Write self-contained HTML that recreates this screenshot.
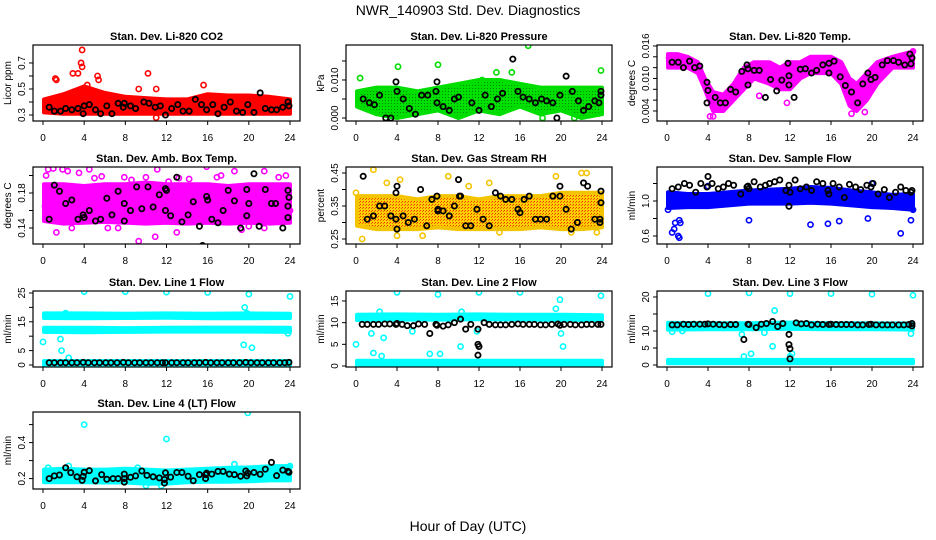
<!DOCTYPE html>
<html><head><meta charset="utf-8"><style>
html,body{margin:0;padding:0;background:#fff;}
svg{display:block;font-family:"Liberation Sans",sans-serif;}
</style></head><body>
<svg id="chart" width="936" height="540" viewBox="0 0 936 540" xmlns="http://www.w3.org/2000/svg">
<defs>
<pattern id="pat-green" width="3" height="3" patternUnits="userSpaceOnUse"><rect width="3" height="3" fill="#00e000"/><rect x="1" y="1" width="1" height="1" fill="#008800"/></pattern>
<pattern id="pat-rh" width="3" height="3" patternUnits="userSpaceOnUse"><rect width="3" height="3" fill="#ffd000"/><rect width="1" height="1" fill="#f03000"/><rect x="2" y="1" width="1" height="1" fill="#f06000"/></pattern>
</defs>
<text x="468" y="15" text-anchor="middle" font-size="14">NWR_140903  Std. Dev. Diagnostics</text>
<text x="468" y="531" text-anchor="middle" font-size="14">Hour of Day (UTC)</text>
<g id="panels"></g>
</svg>
<script>
// ---- data ----
const xTicks=[0,4,8,12,16,20,24];
// P1 CO2
const co2Hrs=[0,2,4,6,8,10,12,14,16,18,20,22,24];
const co2Lo=[0.32,0.31,0.31,0.31,0.31,0.31,0.31,0.31,0.31,0.31,0.31,0.31,0.31];
const co2Hi=[0.42,0.46,0.52,0.47,0.44,0.43,0.42,0.42,0.46,0.45,0.45,0.44,0.42];
const co2Out=[[3.8,0.8],[3.7,0.7],[3.8,0.67],[2.9,0.62],[3.4,0.62],[1.2,0.58],[1.3,0.57],[5.3,0.6],[5.4,0.57],[10.2,0.62],[4.3,0.53],[11,0.5],[9.3,0.5],[15.6,0.53],[11,0.28]];
const co2Blk=[[0.6,0.36],[1.1,0.33],[1.7,0.33],[2.2,0.35],[2.8,0.34],[3.4,0.35],[3.9,0.31],[4,0.37],[4.5,0.38],[5.1,0.34],[5.6,0.31],[6.2,0.37],[6.7,0.31],[7.3,0.39],[7.9,0.39],[7.8,0.36],[8.5,0.37],[9,0.35],[9.8,0.4],[10.3,0.39],[10.9,0.36],[11.4,0.37],[11.9,0.3],[12.5,0.35],[13.1,0.38],[13.6,0.33],[14.2,0.33],[14.8,0.42],[15.4,0.38],[15.9,0.34],[16.5,0.38],[17,0.31],[17.6,0.36],[18.2,0.4],[18.8,0.33],[19.4,0.32],[19.9,0.38],[20.5,0.32],[21.1,0.47],[21.6,0.35],[22.2,0.34],[22.7,0.34],[23.3,0.36],[23.8,0.4],[23.9,0.37]];
// P2 Pressure
const presHrs=[0,2,4,6,8,10,12,14,16,18,20,22,24];
const presLo=[0.003,0.001,0.000,0.001,0.002,0.000,0.002,0.001,0.003,0.001,0.002,0.000,0.001];
const presHi=[0.007,0.008,0.008,0.007,0.008,0.009,0.010,0.010,0.009,0.008,0.008,0.008,0.008];
const presOut=[[0.4,0.0105],[4.1,0.0135],[8,0.014],[12.3,0.010],[13.7,0.012],[16.8,0.019],[23.9,0.0125],[15.2,0.012],[18.2,0],[21.3,0]];
const presBlk=[[0.7,0.005],[1.3,0.004],[1.8,0.0035],[2.3,0.006],[2.9,0.0],[3.4,0.0],[3.9,0.0095],[4,0.007],[4.6,0.005],[5.2,0.0025],[5.8,0.001],[6.4,0.006],[7,0.006],[7.8,0.007],[7.9,0.0095],[7.9,0.004],[8.5,0.003],[9.1,0.002],[9.6,0.005],[10,0.0055],[11.3,0.004],[12,0.002],[12.6,0.006],[13.2,0.003],[13.8,0.005],[14.3,0.0065],[15.3,0.0155],[15.8,0.007],[16.3,0.0055],[16.9,0.005],[17.5,0.004],[18.1,0.005],[18.6,0.0045],[19.2,0.004],[19.6,0.0],[19.9,0.006],[20.5,0.011],[21.1,0.007],[21.7,0.0045],[22.2,0.002],[22.7,0.003],[23.3,0.0045],[23.7,0.004],[23.9,0.006],[23.9,0.007]];
// P3 Li-820 temp
const tmpHrs=[0,1,2,3,3.7,4.5,5.5,6.5,7.5,8.5,10,11,12,13,14,15,16,17,17.8,18.5,19.5,20.5,22,24];
const tmpLo=[0.012,0.012,0.012,0.011,0.008,0.004,0.004,0.006,0.008,0.010,0.009,0.008,0.008,0.010,0.011,0.011,0.011,0.009,0.005,0.004,0.006,0.009,0.012,0.012];
const tmpHi=[0.0145,0.0145,0.014,0.013,0.010,0.0075,0.007,0.009,0.012,0.013,0.013,0.012,0.013,0.013,0.014,0.014,0.014,0.013,0.010,0.009,0.011,0.013,0.014,0.015];
const tmpOut=[[4.2,0.003],[4.5,0.003],[9,0.0068],[11.7,0.0055],[18,0.0035],[19.3,0.0038],[24,0.015],[0.2,0.0138]];
const tmpBlk=[[0.5,0.013],[1.1,0.013],[1.6,0.012],[2.2,0.0132],[2.7,0.012],[3.2,0.0123],[3.9,0.0093],[4,0.0078],[4.7,0.0065],[3.9,0.0055],[5.2,0.0055],[5.7,0.0055],[6.2,0.008],[6.7,0.0075],[7.3,0.0113],[7.8,0.0125],[7.9,0.0118],[7.9,0.0088],[8.5,0.0115],[9,0.0115],[9.6,0.0065],[10.1,0.0098],[10.7,0.0077],[11.2,0.0097],[11.8,0.0128],[11.9,0.0105],[11.9,0.0088],[12.4,0.0065],[13,0.0117],[13.5,0.0118],[14.1,0.011],[14.6,0.0115],[15.2,0.0125],[15.8,0.0128],[15.8,0.011],[16.3,0.0132],[16.9,0.0103],[17.4,0.0087],[18,0.0075],[18.6,0.0055],[19.1,0.009],[19.6,0.011],[19.9,0.0098],[20.3,0.0102],[21,0.0125],[21.5,0.0133],[22.1,0.0133],[22.6,0.013],[23.2,0.0125],[23.7,0.0145],[23.8,0.0127],[23.9,0.0138]];
// P4 Amb box temp
const ambHrs=[0,2,4,6,8,10,12,14,16,18,20,22,24];
const ambLo=[0.148,0.145,0.146,0.147,0.146,0.145,0.146,0.145,0.146,0.145,0.146,0.145,0.146];
const ambHi=[0.19,0.19,0.188,0.19,0.19,0.192,0.19,0.19,0.19,0.188,0.19,0.19,0.19];
const ambOut=[[0.3,0.2],[0.4,0.153],[0.5,0.207],[1,0.208],[1.3,0.135],[1.9,0.207],[2.4,0.205],[2.8,0.14],[3.5,0.203],[4.5,0.207],[5,0.197],[5.7,0.199],[6.3,0.14],[7.3,0.14],[7.9,0.198],[8.6,0.195],[9.3,0.125],[10,0.198],[10.9,0.13],[11.1,0.207],[12.2,0.193],[13.2,0.197],[14.2,0.196],[15.9,0.21],[16.9,0.198],[17.3,0.2],[18.6,0.205],[19.3,0.138],[21.5,0.205],[22.9,0.198],[23.6,0.2],[21.5,0.14],[20,0.142],[13,0.135],[0.2,0.165],[24,0.16]];
const ambBlk=[[0.6,0.15],[1.1,0.189],[1.6,0.182],[2.2,0.168],[2.8,0.172],[3.4,0.15],[3.9,0.155],[4,0.152],[4.5,0.16],[5.1,0.148],[5.6,0.15],[6.2,0.174],[6.7,0.155],[7.3,0.182],[7.9,0.148],[7.9,0.168],[8.5,0.16],[9.1,0.187],[9.6,0.162],[10.2,0.187],[10.7,0.164],[11.3,0.178],[11.9,0.16],[11.9,0.185],[12,0.183],[12.4,0.154],[13,0.198],[13.5,0.147],[14.1,0.155],[14.6,0.17],[15.2,0.142],[15.5,0.12],[15.9,0.176],[16,0.172],[16.4,0.15],[17,0.146],[17.5,0.16],[18,0.183],[18.6,0.171],[19.2,0.14],[19.8,0.184],[19.8,0.154],[20,0.168],[20.5,0.202],[21,0.142],[21.6,0.184],[22.2,0.168],[22.6,0.168],[23.3,0.14],[23.8,0.152],[23.8,0.165],[23.9,0.175],[23.8,0.183]];
// P5 Gas stream RH
const rhHrs=[0,2,4,6,8,10,12,14,16,18,20,22,24];
const rhLo=[0.29,0.28,0.28,0.28,0.285,0.28,0.28,0.28,0.28,0.285,0.28,0.28,0.285];
const rhHi=[0.38,0.38,0.38,0.37,0.38,0.38,0.37,0.38,0.38,0.38,0.39,0.39,0.39];
const rhOut=[[0.6,0.25],[1.7,0.46],[0,0.39],[4,0.26],[4.3,0.43],[3,0.42],[11,0.41],[13,0.42],[17,0.48],[22,0.45],[22.5,0.45],[23.5,0.27],[21,0.27],[6.5,0.26],[19.5,0.44],[14,0.27],[9,0.44]];
const rhBlk=[[0.7,0.44],[1.1,0.31],[1.7,0.32],[2.3,0.35],[2.8,0.35],[3.4,0.32],[3.9,0.31],[3.9,0.39],[4,0.41],[4,0.28],[4.6,0.32],[5.1,0.3],[5.7,0.31],[6.3,0.4],[6.9,0.29],[7.4,0.37],[7.9,0.38],[8,0.34],[8,0.335],[8.5,0.335],[9.1,0.32],[9.6,0.35],[10,0.43],[10.1,0.38],[10.2,0.38],[10.7,0.29],[11.2,0.29],[11.8,0.34],[12.4,0.31],[13,0.29],[13.6,0.39],[14.1,0.38],[14.6,0.37],[15.2,0.37],[15.8,0.34],[16,0.33],[16.4,0.37],[16.9,0.38],[17.5,0.31],[18,0.31],[18.6,0.31],[19.2,0.38],[19.9,0.41],[19.9,0.38],[20.5,0.34],[21,0.28],[21.6,0.3],[22.2,0.42],[22.6,0.41],[23.3,0.31],[23.8,0.3],[23.9,0.395],[23.9,0.36],[23.8,0.31]];
// P6 Sample flow
const sfHrs=[0,2,4,6,8,10,12,14,16,18,20,22,24];
const sfLo=[0.92,0.93,0.93,0.95,0.97,0.97,0.97,0.98,0.97,0.95,0.93,0.92,0.9];
const sfHi=[1.1,1.08,1.08,1.1,1.12,1.13,1.14,1.16,1.15,1.12,1.1,1.07,1.08];
const sfOut=[[0.5,0.64],[0.7,0.68],[1.1,0.6],[1.2,0.58],[1.3,0.75],[1.2,0.78],[0.8,0.75],[19.6,0.8],[22.8,0.63],[23.8,0.78],[14,0.73],[15.7,0.74],[16.8,0.77],[8,0.78],[20,1.2],[4,1.17],[0.1,0.9],[24,0.9]];
const sfBlk=[[0.5,1.14],[1.1,1.16],[1.7,1.2],[2.2,1.18],[2.8,1.1],[3.3,1.2],[3.9,1.16],[4,1.28],[4.4,1.2],[5,1.14],[5.5,1.16],[6,1.2],[6.5,1.18],[7.2,1.08],[7.8,1.16],[7.9,1.17],[8,1.14],[8.5,1.22],[9.1,1.16],[9.6,1.18],[10,1.2],[10.5,1.22],[11,1.24],[11.6,1.12],[11.9,1.18],[12,1.1],[11.9,0.94],[12.5,1.24],[13,1.14],[13.6,1.16],[14.1,1.12],[14.6,1.22],[15.2,1.2],[15.7,1.12],[15.8,1.08],[16.2,1.2],[16.8,1.16],[17.3,1.04],[17.8,1.19],[18.4,1.16],[18.9,1.13],[19.5,1.18],[19.9,1.16],[20.1,1.2],[20.6,1.08],[21.2,1.13],[21.7,1.04],[22.3,1.1],[22.8,1.16],[23.3,1.12],[23.8,1.1],[23.9,1.12]];
// P7 Line 1
const l1Hrs=[0,4,8,12,16,20,24];
const l1LoA=[16.3,16.2,16.3,16.4,16.2,16.2,16.3];
const l1HiA=[17.9,17.9,17.8,17.9,17.8,17.9,17.8];
const l1LoB=[11.5,11.4,11.5,11.6,11.6,11.6,11.5];
const l1HiB=[12.9,12.9,12.8,12.9,13,13,12.9];
const l1LoC=[0,0,0,0,0,0,0];
const l1HiC=[1.4,1.4,1.4,1.4,1.4,1.4,1.4];
const l1Out=[[0,8],[4,25.5],[8,25.5],[12,25.3],[16,25.2],[20,24.6],[24,23.8],[19.6,20],[2.2,18],[1.8,5],[19.5,7],[20.3,6],[1.7,9],[2.5,2.5],[19.8,18],[23.8,11]];
const l1Blk=[[0.6,0.8],[1.1,0.8],[1.7,0.8],[2.2,0.8],[2.8,0.8],[3.3,0.8],[3.9,0.9],[4.4,0.8],[5,0.8],[5.5,0.8],[6.1,0.8],[6.6,0.8],[7.2,0.8],[7.8,0.9],[8.3,0.8],[8.9,0.8],[9.4,0.8],[10,0.8],[10.5,0.8],[11.1,0.8],[11.6,0.8],[11.9,0.8],[12.5,0.8],[13,0.8],[13.6,0.8],[14.1,0.8],[14.7,0.8],[15.2,0.8],[15.8,0.9],[16.3,0.8],[16.9,0.8],[17.4,0.8],[18,0.8],[18.5,0.8],[19.1,0.8],[19.7,0.9],[20.2,0.8],[20.8,0.8],[21.3,0.8],[21.9,0.8],[22.4,0.8],[23,0.8],[23.5,0.8],[23.9,0.9]];
// P8 Line 2
const l2Hrs=[0,4,8,12,16,20,24];
const l2LoA=[10.6,10.7,10.7,10.8,10.7,10.6,10.6];
const l2HiA=[11.8,11.9,11.8,11.9,11.8,11.8,11.7];
const l2LoB=[0.2,0.2,0.2,0.2,0.2,0.2,0.2];
const l2HiB=[1.2,1.2,1.2,1.2,1.2,1.2,1.2];
const l2Out=[[0,5],[1.7,3],[2.5,2.3],[2.7,6.5],[2.3,12.5],[4,17],[8,16.5],[8.2,2.8],[7.2,2.8],[10.3,12.5],[10.2,4.5],[12,17],[16,17],[19.9,15.3],[19.5,13.2],[20,7.5],[20.2,4.5],[23.9,16.2],[11.8,8],[1.5,7.5],[5.5,8]];
const l2Blk=[[0.6,9.6],[1.1,9.6],[1.7,9.6],[2.2,9.6],[2.8,9.7],[3.3,9.7],[3.9,9.6],[4,9.8],[4.5,9.6],[5,9.3],[5.6,9.3],[6.1,9.7],[6.7,9.6],[7.2,7.5],[7.8,9.6],[7.9,9.4],[8.5,9.2],[9,9.5],[9.6,10],[10.2,10.8],[10.7,8.5],[11.2,9.6],[11.9,8.5],[11.9,5],[12,4.5],[11.9,2.5],[12.5,10],[13,9.6],[13.6,9.5],[14.1,9.5],[14.6,9.5],[15.2,9.6],[15.8,9.7],[16.3,9.6],[16.9,9.6],[17.4,9.6],[18,9.5],[18.5,9.5],[19.1,9.6],[19.7,9.7],[19.9,9.4],[20.3,9.6],[20.9,9.6],[21.4,9.5],[22,9.5],[22.5,9.6],[23,9.6],[23.6,9.6],[23.9,9.6]];
// P9 Line 3
const l3Hrs=[0,4,8,12,16,20,24];
const l3LoA=[10.4,10.5,10.5,10.6,10.5,10.5,10.4];
const l3HiA=[12.4,12.3,12.3,12.5,12.3,12.3,12.2];
const l3LoB=[0.5,0.5,0.5,0.5,0.5,0.5,0.5];
const l3HiB=[1.5,1.5,1.5,1.5,1.5,1.5,1.5];
const l3Out=[[4,21],[8,21.2],[12,21],[16,21],[20,20.8],[24,20.5],[7.5,2.5],[8.2,3.3],[10.3,5.5],[10.5,16],[9.5,9.5],[12,2.5],[12.2,3.3],[7.3,9],[23.8,9.2],[0.5,9.8],[1.5,10]];
const l3Blk=[[0.5,11.8],[1,11.8],[1.6,12],[2.1,11.9],[2.6,12],[3.2,12],[3.7,12],[4,12.1],[4.5,12],[5.1,11.9],[5.6,11.8],[6.2,11.9],[6.7,11.9],[7.5,7.5],[7.9,12],[8,11.9],[8.7,11],[9.2,12],[9.7,12.2],[10.3,12.8],[10.8,11.3],[11.3,12.2],[11.9,9],[11.9,6],[12,4.8],[12,1.8],[12.6,12.4],[13.1,12.1],[13.6,12.2],[14.1,11.8],[14.7,12],[15.2,11.9],[15.8,11.9],[16,12],[16.5,11.9],[17,11.9],[17.5,11.9],[18,11.9],[18.6,11.8],[19.1,11.8],[19.7,11.9],[19.9,12],[20.4,11.8],[21,11.8],[21.5,11.8],[22,11.8],[22.6,11.8],[23.1,11.8],[23.6,11.9],[23.9,11.5],[23.9,12.2]];
// P10 Line 4 LT
const l4Hrs=[0,2,4,6,8,10,12,14,16,18,20,22,24];
const l4Lo=[0.18,0.18,0.18,0.178,0.178,0.172,0.172,0.18,0.182,0.182,0.185,0.19,0.19];
const l4Hi=[0.25,0.255,0.25,0.25,0.255,0.25,0.245,0.25,0.255,0.26,0.262,0.268,0.27];
const l4Out=[[4,0.5],[12,0.42],[19.9,0.565],[11.5,0.16],[10,0.16],[2.5,0.27],[9.2,0.26],[18.6,0.28],[24,0.27],[0.5,0.26]];
const l4Blk=[[0.6,0.2],[1.1,0.215],[1.6,0.22],[2.2,0.26],[2.7,0.233],[3.3,0.21],[3.8,0.19],[3.9,0.212],[4,0.235],[4.5,0.244],[5.1,0.187],[5.7,0.222],[6.2,0.196],[6.8,0.2],[7.3,0.2],[7.9,0.18],[7.9,0.2],[7.9,0.225],[8.5,0.207],[9,0.215],[9.6,0.242],[10.1,0.218],[10.7,0.21],[11.3,0.204],[11.8,0.175],[11.8,0.195],[11.9,0.232],[12.4,0.208],[13,0.234],[13.5,0.234],[14.1,0.213],[14.6,0.188],[15.2,0.222],[15.8,0.222],[15.8,0.2],[15.9,0.23],[16.4,0.225],[17,0.24],[17.5,0.24],[18.1,0.225],[18.6,0.222],[19.2,0.213],[19.7,0.242],[19.8,0.215],[19.9,0.23],[20.5,0.234],[21.1,0.224],[21.6,0.252],[22.2,0.29],[22.7,0.216],[23.3,0.247],[23.8,0.24],[23.9,0.235]];

// ---- layout ----
const colX=[[33,300],[346,612],[657,923]];
const rowY=[[45,121],[167,244],[291,367],[412,489]];
const NS="http://www.w3.org/2000/svg";
const root=document.getElementById('panels');
function mk(tag,attrs,parent){const e=document.createElementNS(NS,tag);for(const k in attrs)e.setAttribute(k,attrs[k]);(parent||root).appendChild(e);return e;}

const panels=[
 {key:'co2',title:'Stan. Dev. Li-820 CO2',ylab:'Licor ppm',c:0,r:0,dom:[0.254,0.838],ticks:[0.3,0.4,0.5,0.6,0.7],labs:[0.3,0.5,0.7],fmt:1,col:'#ff0000',fill:'#ff0000',hrs:co2Hrs,bands:[[co2Lo,co2Hi]],out:co2Out,blk:co2Blk},
 {key:'pressure',title:'Stan. Dev. Li-820 Pressure',ylab:'kPa',c:1,r:0,dom:[-0.00079,0.0192],ticks:[0,0.005,0.01,0.015],labs:[0,0.01],fmt:3,col:'#00dd00',fill:'url(#pat-green)',hrs:presHrs,bands:[[presLo,presHi]],out:presOut,blk:presBlk},
 {key:'li820-temp',title:'Stan. Dev. Li-820 Temp.',ylab:'degrees C',c:2,r:0,dom:[0.00215,0.01618],ticks:[0.004,0.006,0.008,0.010,0.012,0.014,0.016],labs:[0.004,0.010,0.016],fmt:3,col:'#ff00ff',fill:'#ff00ff',hrs:tmpHrs,bands:[[tmpLo,tmpHi]],out:tmpOut,blk:tmpBlk},
 {key:'amb-temp',title:'Stan. Dev. Amb. Box Temp.',ylab:'degrees C',c:0,r:1,dom:[0.1217,0.2097],ticks:[0.14,0.16,0.18,0.20],labs:[0.14,0.18],fmt:2,col:'#ff00ff',fill:'#ff00ff',hrs:ambHrs,bands:[[ambLo,ambHi]],out:ambOut,blk:ambBlk},
 {key:'rh',title:'Stan. Dev. Gas Stream RH',ylab:'percent',c:1,r:1,dom:[0.2348,0.4682],ticks:[0.25,0.30,0.35,0.40,0.45],labs:[0.25,0.35,0.45],fmt:2,col:'#f5c400',fill:'url(#pat-rh)',hrs:rhHrs,bands:[[rhLo,rhHi]],out:rhOut,blk:rhBlk},
 {key:'sample-flow',title:'Stan. Dev. Sample Flow',ylab:'ml/min',c:2,r:1,dom:[0.5086,1.3886],ticks:[0.6,0.8,1.0,1.2],labs:[0.6,1.0],fmt:1,col:'#0000ff',fill:'#0000ff',hrs:sfHrs,bands:[[sfLo,sfHi]],out:sfOut,blk:sfBlk},
 {key:'line1',title:'Stan. Dev. Line 1 Flow',ylab:'ml/min',c:0,r:2,dom:[-0.694,25.69],ticks:[0,5,10,15,20,25],labs:[0,5,15,25],fmt:0,col:'#00ffff',fill:'#00ffff',hrs:l1Hrs,bands:[[l1LoA,l1HiA],[l1LoB,l1HiB],[l1LoC,l1HiC]],out:l1Out,blk:l1Blk},
 {key:'line2',title:'Stan. Dev. Line 2 Flow',ylab:'ml/min',c:1,r:2,dom:[-0.23,17.3],ticks:[0,5,10,15],labs:[0,5,10,15],fmt:0,col:'#00ffff',fill:'#00ffff',hrs:l2Hrs,bands:[[l2LoA,l2HiA],[l2LoB,l2HiB]],out:l2Out,blk:l2Blk},
 {key:'line3',title:'Stan. Dev. Line 3 Flow',ylab:'ml/min',c:2,r:2,dom:[-0.59,21.76],ticks:[0,5,10,15,20],labs:[0,5,10,20],fmt:0,col:'#00ffff',fill:'#00ffff',hrs:l3Hrs,bands:[[l3LoA,l3HiA],[l3LoB,l3HiB]],out:l3Out,blk:l3Blk},
 {key:'line4',title:'Stan. Dev. Line 4 (LT) Flow',ylab:'ml/min',c:0,r:3,dom:[0.142,0.57],ticks:[0.2,0.3,0.4,0.5],labs:[0.2,0.4],fmt:1,col:'#00ffff',fill:'#00ffff',hrs:l4Hrs,bands:[[l4Lo,l4Hi]],out:l4Out,blk:l4Blk}
];

panels.forEach(p=>{
  const [x0,x1]=colX[p.c],[y0,y1]=rowY[p.r];
  const xs=h=>(x0+10)+h*((x1-x0-20)/24);
  const ys=v=>y1-(v-p.dom[0])/(p.dom[1]-p.dom[0])*(y1-y0);
  const g=mk('g',{});
  
  
  const t=mk('text',{x:(x0+x1)/2,y:y0-5,'text-anchor':'middle','font-size':'11','font-weight':'bold'},g);
  t.textContent=p.title;
  
  
  const cy=(y0+y1)/2;
  const yl=mk('text',{x:x0-22,y:cy,transform:`rotate(-90 ${x0-22} ${cy})`,'text-anchor':'middle','font-size':'10'},g);
  yl.textContent=p.ylab;
  
  
  const clip=mk('clipPath',{id:'clip-'+p.key},g);
  mk('rect',{x:x0,y:y0,width:x1-x0,height:y1-y0},clip);
  const plot=mk('g',{'clip-path':`url(#clip-${p.key})`},g);
  p.bands.forEach(b=>{
    const lo=b[0],hi=b[1];
    let d='';
    p.hrs.forEach((h,i)=>{d+=(i?'L':'M')+xs(Math.max(h,0.1)).toFixed(1)+' '+ys(hi[i]).toFixed(1);});
    for(let i=p.hrs.length-1;i>=0;i--){d+='L'+xs(Math.max(p.hrs[i],0.1)).toFixed(1)+' '+ys(lo[i]).toFixed(1);}
    const band=mk('path',{d:d+'Z',fill:p.fill,stroke:p.col,'stroke-width':'4','stroke-linejoin':'round'},plot);
    
    
  });
  p.out.forEach(pt=>{
    const c=mk('circle',{cx:xs(pt[0]),cy:ys(pt[1]),r:2.6,fill:'none',stroke:p.col,'stroke-width':'1.6'},plot);
    
    
  });
  p.blk.forEach(pt=>{
    const c=mk('circle',{cx:xs(pt[0]),cy:ys(pt[1]),r:2.6,fill:'none',stroke:'#000','stroke-width':'1.8'},plot);
    
    
  });
  const box=mk('rect',{x:x0,y:y0,width:x1-x0,height:y1-y0,fill:'none',stroke:'#000','stroke-width':'1.2'},g);
  
  
  xTicks.forEach(h=>{
    mk('line',{x1:xs(h),x2:xs(h),y1:y1,y2:y1+4,stroke:'#000'},g);
    const tl=mk('text',{x:xs(h),y:y1+20,'text-anchor':'middle','font-size':'10'},g);
    tl.textContent=h;
    
    
  });
  p.ticks.forEach(v=>{mk('line',{x1:x0-4,x2:x0,y1:ys(v),y2:ys(v),stroke:'#000'},g);});
  p.labs.forEach(v=>{
    const y=ys(v);
    const tl=mk('text',{x:x0-8,y:y,transform:`rotate(-90 ${x0-8} ${y})`,'text-anchor':'middle','font-size':'10'},g);
    tl.textContent=v.toFixed(p.fmt);
    
    
  });
});
</script>
</body></html>
